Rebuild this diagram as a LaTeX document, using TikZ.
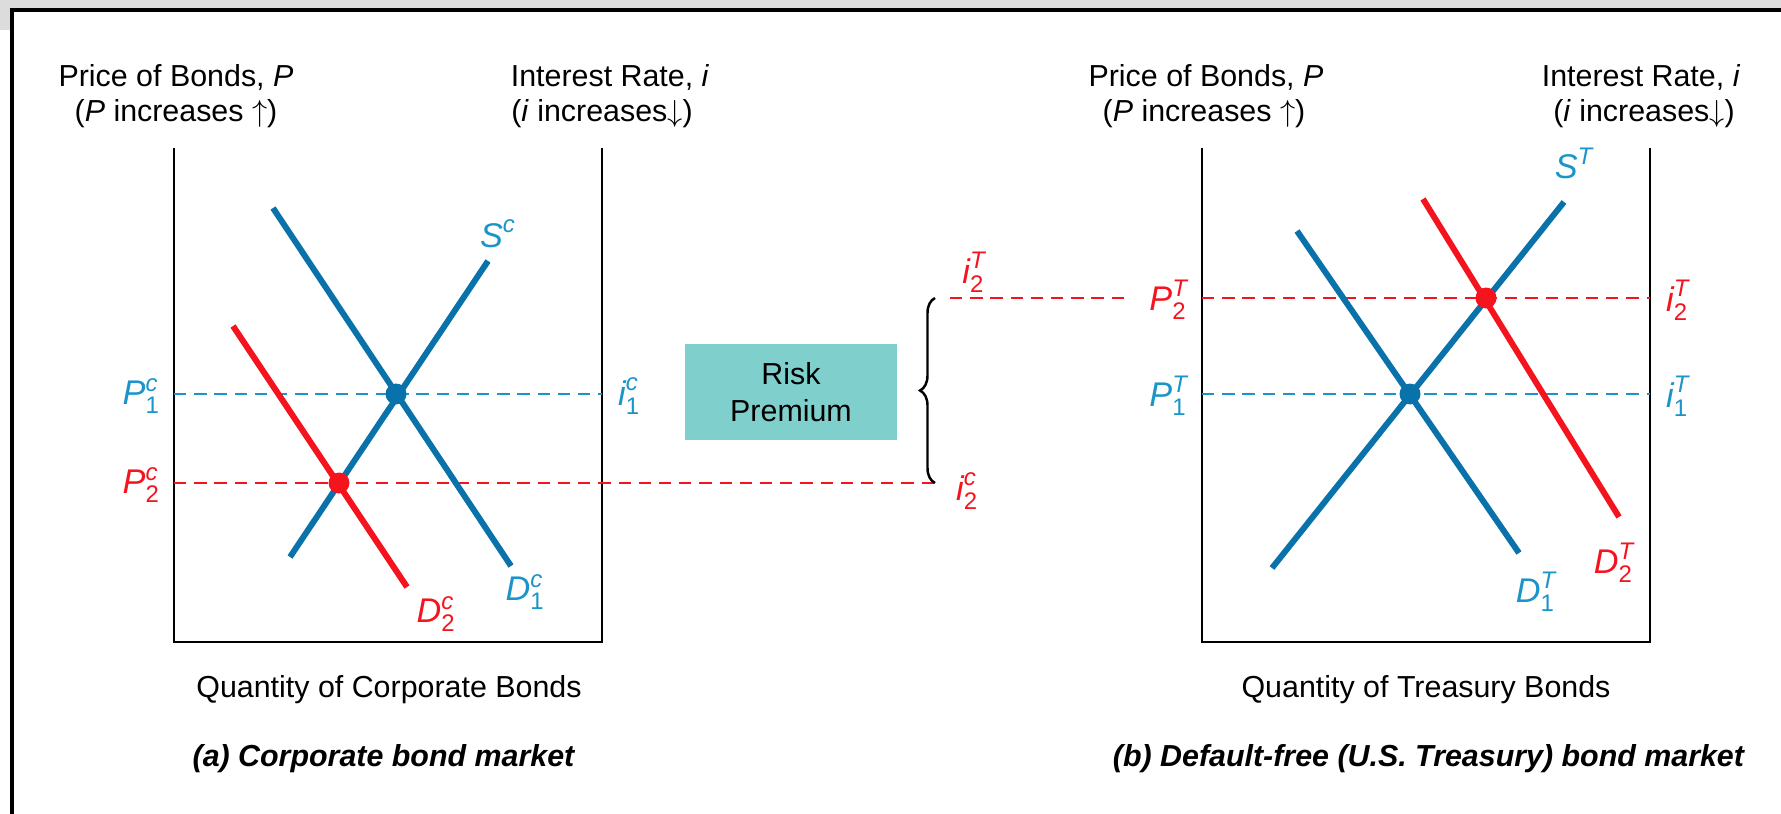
\documentclass[tikz,border=0pt]{standalone}
\usepackage{amsmath}
\usepackage{fontspec}
\setmainfont{Liberation Sans}
\usetikzlibrary{decorations.pathreplacing}

\definecolor{curveblue}{HTML}{0A72AA}
\definecolor{labelblue}{HTML}{1B95C9}
\definecolor{shiftred}{HTML}{F5141E}
\definecolor{premium}{HTML}{7FCFCC}
\definecolor{band}{HTML}{DCDCDC}

% market label: letter, superscript, subscript
\newcommand{\mlab}[3]{$\text{\itshape #1}^{\text{\itshape #2}}_{\text{#3}}$}

\tikzset{
  every node/.style={font=\fontsize{17.3}{21}\selectfont},
  axis/.style={line width=0.9pt},
  curve/.style={line width=3.4pt},
  guide/.style={line width=1.1pt, dash pattern=on 7pt off 4.5pt},
  dot/.style={circle, inner sep=0pt, minimum size=0.42cm},
  mark label/.style={font=\fontsize{19.5}{22}\selectfont},
}

\begin{document}
\begin{tikzpicture}[x=0.02cm, y=-0.02cm]
    \useasboundingbox (0,0) rectangle (1781,814);
    % screenshot frame
    \fill[band] (0,0) rectangle (1781,8);
    \fill[band] (0,8) rectangle (10,30);
    \fill[black] (10,8) rectangle (1781,12);
    \fill[black] (10,8) rectangle (14,814);

    % (a) corporate bonds
    \coordinate (aTL) at (174,148);
    \coordinate (aBL) at (174,642);
    \coordinate (aBR) at (602,642);
    \coordinate (aTR) at (602,148);
    \draw[axis] (aTL) -- (aBL) -- (aBR) -- (aTR);
    \node (aPrice) at (176,77) {Price of Bonds, \textit{P}};
    \node (aPinc) at (176,114) {(\textit{P} increases $\uparrow$)};
    \node (aRate) at (610,77) {Interest Rate, \textit{i}};
    \node (aIinc) at (602,114) {(\textit{i} increases$\downarrow$)};

    \coordinate (aP1l) at (174,394);
    \coordinate (aP1r) at (602,394);
    \coordinate (aP2l) at (174,483);
    \coordinate (braceB) at (935,483);
    \draw[guide, labelblue] (aP1l) -- (aP1r);
    \draw[guide, shiftred] (aP2l) -- (braceB);

    \coordinate (aD1top) at (273,208);
    \coordinate (aD1bot) at (511,566);
    \coordinate (aStop) at (488,261);
    \coordinate (aSbot) at (290,557);
    \coordinate (aD2top) at (233,326);
    \coordinate (aD2bot) at (407,587);
    \draw[curve, curveblue] (aD1top) -- (aD1bot);
    \draw[curve, curveblue] (aSbot) -- (aStop);
    \draw[curve, shiftred] (aD2top) -- (aD2bot);
    \node[dot, fill=curveblue] (aE1) at (396,394) {};
    \node[dot, fill=shiftred] (aE2) at (339,483) {};

    \node[mark label, labelblue, anchor=east] (aP1) at (166,396) {\mlab{P}{c}{1}};
    \node[mark label, shiftred, anchor=east] (aP2) at (166,485) {\mlab{P}{c}{2}};
    \node[mark label, labelblue, anchor=west] (ai1) at (612,396) {\mlab{i}{c}{1}};
    \node[mark label, labelblue] (aS) at (498,238) {\mlab{S}{c}{}};
    \node[mark label, labelblue] (aD1) at (525,592) {\mlab{D}{c}{1}};
    \node[mark label, shiftred] (aD2) at (436,614) {\mlab{D}{c}{2}};

    \node (aQty) at (389,690) {Quantity of Corporate Bonds};
    \node (aCap) at (384,759) {\textbf{\textit{(a) Corporate bond market}}};

    % risk premium
    \node[fill=premium, inner sep=0pt, minimum width=4.24cm, minimum height=1.92cm,
          align=center] (risk) at (791,392) {Risk\\Premium};
    \coordinate (braceT) at (935,298);
    \draw[line width=1.4pt, decorate, decoration={brace, amplitude=0.3cm}]
          (braceB) -- (braceT);
    \node[mark label, shiftred, anchor=west] (i2c) at (950,491) {\mlab{i}{c}{2}};
    \node[mark label, shiftred] (i2T) at (974,272) {\mlab{i}{T}{2}};

    % (b) treasury bonds
    \coordinate (bTL) at (1202,148);
    \coordinate (bBL) at (1202,642);
    \coordinate (bBR) at (1650,642);
    \coordinate (bTR) at (1650,148);
    \draw[axis] (bTL) -- (bBL) -- (bBR) -- (bTR);
    \node (bPrice) at (1206,77) {Price of Bonds, \textit{P}};
    \node (bPinc) at (1204,114) {(\textit{P} increases $\uparrow$)};
    \node (bRate) at (1641,77) {Interest Rate, \textit{i}};
    \node (bIinc) at (1644,114) {(\textit{i} increases$\downarrow$)};

    \coordinate (bP2m) at (950,298);
    \coordinate (bP2g) at (1126,298);
    \coordinate (bP2l) at (1202,298);
    \coordinate (bP2r) at (1650,298);
    \coordinate (bP1l) at (1202,394);
    \coordinate (bP1r) at (1650,394);
    \draw[guide, shiftred] (bP2m) -- (bP2g);
    \draw[guide, shiftred] (bP2l) -- (bP2r);
    \draw[guide, labelblue] (bP1l) -- (bP1r);

    \coordinate (bD1top) at (1297,231);
    \coordinate (bD1bot) at (1519,553);
    \coordinate (bStop) at (1564,202);
    \coordinate (bSbot) at (1272,568);
    \coordinate (bD2top) at (1423,199);
    \coordinate (bD2bot) at (1619,517);
    \draw[curve, curveblue] (bD1top) -- (bD1bot);
    \draw[curve, curveblue] (bSbot) -- (bStop);
    \draw[curve, shiftred] (bD2top) -- (bD2bot);
    \node[dot, fill=curveblue] (bE1) at (1410,394) {};
    \node[dot, fill=shiftred] (bE2) at (1486,298) {};

    \node[mark label, shiftred, anchor=east] (bP2) at (1194,300) {\mlab{P}{T}{2}};
    \node[mark label, labelblue, anchor=east] (bP1) at (1194,396) {\mlab{P}{T}{1}};
    \node[mark label, shiftred, anchor=west] (bi2) at (1660,300) {\mlab{i}{T}{2}};
    \node[mark label, labelblue, anchor=west] (bi1) at (1660,396) {\mlab{i}{T}{1}};
    \node[mark label, labelblue] (bS) at (1574,168) {\mlab{S}{T}{}};
    \node[mark label, labelblue] (bD1) at (1536,592) {\mlab{D}{T}{1}};
    \node[mark label, shiftred] (bD2) at (1614,563) {\mlab{D}{T}{2}};

    \node (bQty) at (1426,690) {Quantity of Treasury Bonds};
    \node (bCap) at (1429,759) {\textbf{\textit{(b) Default-free (U.S. Treasury) bond market}}};
\end{tikzpicture}
\end{document}
